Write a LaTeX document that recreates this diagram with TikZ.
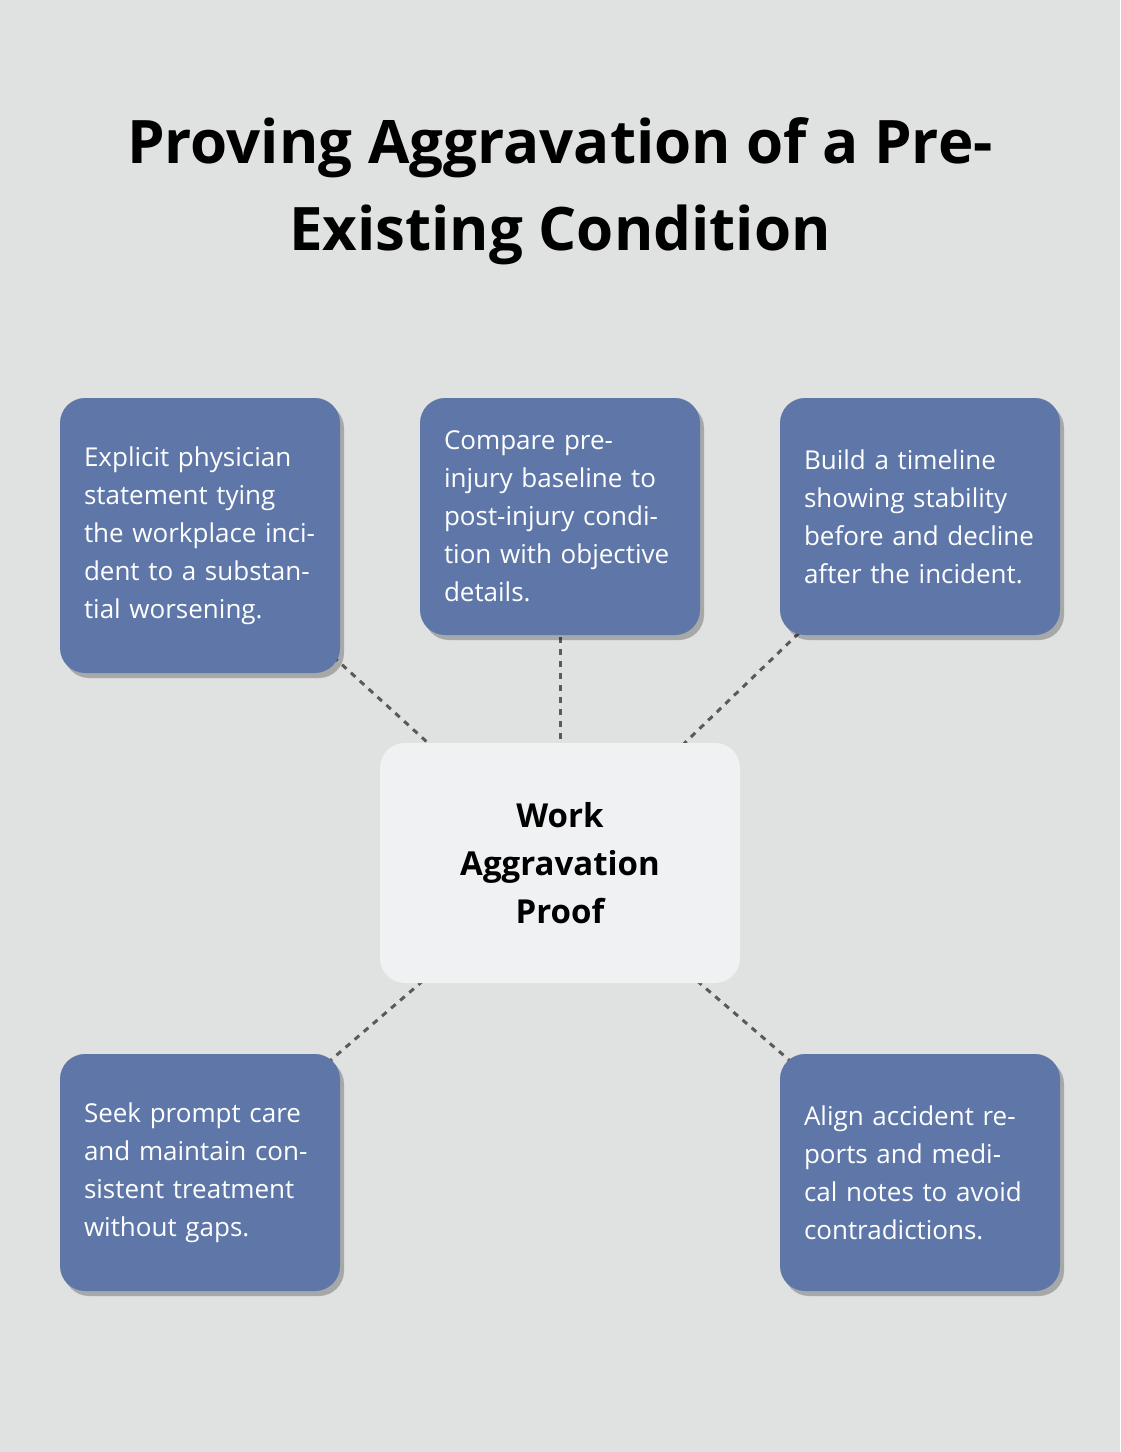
\documentclass[tikz,border=0pt]{standalone}
\usepackage{fontspec}
\setmainfont{Open Sans}
\usetikzlibrary{shadows}
\definecolor{bgcol}{HTML}{E0E2E1}
\definecolor{tipcol}{HTML}{5E77A8}
\definecolor{hubcol}{HTML}{F0F1F3}
\definecolor{linkcol}{HTML}{5A5A5A}
\tikzset{
  tipbox/.style={fill=tipcol, rounded corners=25pt, minimum width=280pt, text width=232pt,
    inner sep=0pt, align=left, text=white, font=\fontsize{26}{38}\selectfont,
    drop shadow={shadow xshift=4pt, shadow yshift=-5pt, opacity=0.25, fill=black}},
  hubbox/.style={fill=hubcol, rounded corners=25pt, minimum width=360pt, minimum height=240pt,
    text width=300pt, inner sep=0pt, align=center, font=\fontsize{33}{48}\selectfont\bfseries},
  link/.style={draw=linkcol, line width=3pt, dash pattern=on 6pt off 6pt}
}
\begin{document}
\begin{tikzpicture}[x=1pt,y=-1pt]
\fill[bgcol] (0,0) rectangle (1120,1452);
\useasboundingbox (0,0) rectangle (1120,1452);
\node[align=center, font=\fontsize{60}{87}\selectfont\bfseries] (title) at (560,191)
  {Proving Aggravation of a Pre-\\Existing Condition};
% links first, boxes drawn over them
\coordinate (ctl) at (200,535.5);
\coordinate (ctm) at (560,516.5);
\coordinate (ctr) at (920,516.5);
\coordinate (cbl) at (200,1172.5);
\coordinate (cbr) at (920,1172.5);
\coordinate (chub) at (560,863);
\foreach \p in {ctl,ctm,ctr,cbl,cbr}
  \draw[link] (\p) -- (chub);
\node[tipbox, minimum height=275pt] (tl) at (ctl)
  {Explicit physician statement tying the workplace incident to a substantial worsening.};
\node[tipbox, minimum height=237pt] (tm) at (ctm)
  {Compare pre-\\injury baseline to post-injury condition with objective details.};
\node[tipbox, minimum height=237pt] (tr) at (ctr)
  {Build a timeline showing stability before and decline after the incident.};
\node[tipbox, minimum height=237pt] (bl) at (cbl)
  {Seek prompt care and maintain consistent treatment without gaps.};
\node[tipbox, minimum height=237pt] (br) at (cbr)
  {Align accident reports and medical notes to avoid contradictions.};
\node[hubbox] (hub) at (chub) {Work\\Aggravation\\Proof};
\end{tikzpicture}
\end{document}
